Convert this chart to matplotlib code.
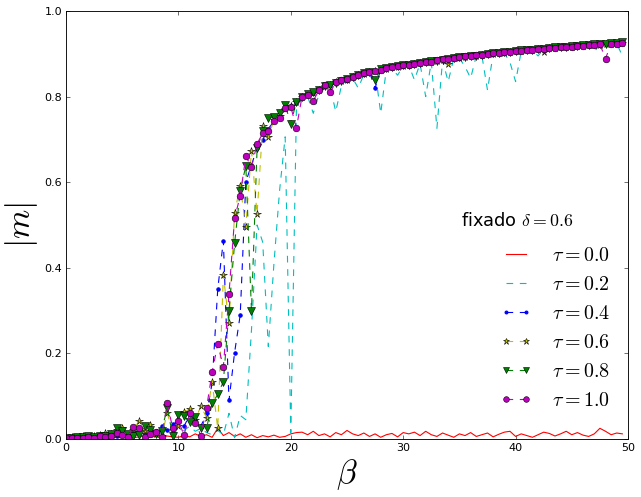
import matplotlib
matplotlib.use('Agg')
import matplotlib.pyplot as plt

plt.rcParams['font.family'] = 'DejaVu Sans'
plt.rcParams['mathtext.fontset'] = 'cm'
plt.rcParams['lines.dashed_pattern'] = [6, 6]
plt.rcParams['xtick.direction'] = 'in'
plt.rcParams['ytick.direction'] = 'in'
plt.rcParams['xtick.top'] = True
plt.rcParams['ytick.right'] = True

# beta grid (step 0.5)
BETA = [
    0.0, 0.5, 1.0, 1.5, 2.0, 2.5, 3.0, 3.5, 4.0, 4.5,
    5.0, 5.5, 6.0, 6.5, 7.0, 7.5, 8.0, 8.5, 9.0, 9.5,
    10.0, 10.5, 11.0, 11.5, 12.0, 12.5, 13.0, 13.5, 14.0, 14.5,
    15.0, 15.5, 16.0, 16.5, 17.0, 17.5, 18.0, 18.5, 19.0, 19.5,
    20.0, 20.5, 21.0, 21.5, 22.0, 22.5, 23.0, 23.5, 24.0, 24.5,
    25.0, 25.5, 26.0, 26.5, 27.0, 27.5, 28.0, 28.5, 29.0, 29.5,
    30.0, 30.5, 31.0, 31.5, 32.0, 32.5, 33.0, 33.5, 34.0, 34.5,
    35.0, 35.5, 36.0, 36.5, 37.0, 37.5, 38.0, 38.5, 39.0, 39.5,
    40.0, 40.5, 41.0, 41.5, 42.0, 42.5, 43.0, 43.5, 44.0, 44.5,
    45.0, 45.5, 46.0, 46.5, 47.0, 47.5, 48.0, 48.5, 49.0, 49.5,
]

M_TAU00 = [
    0.001, 0.002, 0.001, 0.003, 0.002, 0.004, 0.002, 0.003, 0.005, 0.003,
    0.004, 0.006, 0.003, 0.005, 0.008, 0.004, 0.006, 0.003, 0.007, 0.005,
    0.004, 0.008, 0.005, 0.012, 0.006, 0.010, 0.004, 0.025, 0.008, 0.015,
    0.006, 0.012, 0.004, 0.010, 0.003, 0.008, 0.005, 0.009, 0.004, 0.006,
    0.012, 0.015, 0.016, 0.010, 0.018, 0.008, 0.012, 0.005, 0.015, 0.010,
    0.020, 0.012, 0.008, 0.014, 0.006, 0.012, 0.004, 0.010, 0.013, 0.005,
    0.015, 0.012, 0.016, 0.008, 0.018, 0.010, 0.006, 0.014, 0.009, 0.004,
    0.012, 0.008, 0.015, 0.006, 0.010, 0.014, 0.005, 0.011, 0.016, 0.018,
    0.006, 0.012, 0.008, 0.004, 0.010, 0.016, 0.013, 0.007, 0.012, 0.018,
    0.010, 0.015, 0.009, 0.006, 0.012, 0.025, 0.018, 0.010, 0.014, 0.012,
]

M_TAU02 = [
    0.001, 0.002, 0.002, 0.003, 0.002, 0.004, 0.003, 0.005, 0.004, 0.006,
    0.005, 0.008, 0.006, 0.010, 0.008, 0.012, 0.010, 0.015, 0.012, 0.018,
    0.015, 0.020, 0.030, 0.018, 0.025, 0.015, 0.010, 0.020, 0.010, 0.060,
    0.003, 0.055, 0.045, 0.254, 0.500, 0.460, 0.216, 0.410, 0.580, 0.706,
    0.015, 0.770, 0.800, 0.800, 0.761, 0.805, 0.820, 0.822, 0.765, 0.825,
    0.838, 0.843, 0.820, 0.852, 0.856, 0.860, 0.761, 0.864, 0.866, 0.850,
    0.871, 0.873, 0.839, 0.877, 0.800, 0.881, 0.726, 0.885, 0.835, 0.889,
    0.890, 0.870, 0.843, 0.895, 0.896, 0.815, 0.899, 0.901, 0.902, 0.880,
    0.835, 0.906, 0.907, 0.908, 0.895, 0.911, 0.912, 0.913, 0.914, 0.915,
    0.916, 0.917, 0.918, 0.919, 0.905, 0.921, 0.922, 0.923, 0.924, 0.895,
]

M_TAU04 = [
    0.002, 0.003, 0.004, 0.003, 0.005, 0.006, 0.004, 0.008, 0.010, 0.007,
    0.012, 0.008, 0.015, 0.020, 0.010, 0.025, 0.018, 0.030, 0.020, 0.035,
    0.040, 0.030, 0.055, 0.045, 0.030, 0.060, 0.130, 0.350, 0.463, 0.090,
    0.202, 0.290, 0.601, 0.640, 0.680, 0.699, 0.725, 0.742, 0.755, 0.770,
    0.777, 0.786, 0.798, 0.803, 0.808, 0.815, 0.824, 0.827, 0.832, 0.836,
    0.838, 0.845, 0.849, 0.854, 0.857, 0.820, 0.863, 0.865, 0.868, 0.870,
    0.872, 0.874, 0.876, 0.878, 0.880, 0.882, 0.884, 0.886, 0.888, 0.890,
    0.891, 0.893, 0.895, 0.896, 0.898, 0.899, 0.900, 0.902, 0.903, 0.905,
    0.906, 0.907, 0.908, 0.909, 0.911, 0.912, 0.913, 0.914, 0.915, 0.916,
    0.917, 0.918, 0.919, 0.920, 0.921, 0.921, 0.922, 0.923, 0.924, 0.925,
]

M_TAU06 = [
    0.003, 0.004, 0.002, 0.006, 0.005, 0.008, 0.010, 0.015, 0.012, 0.022,
    0.025, 0.010, 0.020, 0.043, 0.018, 0.033, 0.012, 0.006, 0.060, 0.020,
    0.030, 0.062, 0.070, 0.045, 0.077, 0.050, 0.134, 0.025, 0.383, 0.270,
    0.529, 0.591, 0.496, 0.674, 0.526, 0.731, 0.706, 0.745, 0.755, 0.772,
    0.778, 0.787, 0.799, 0.803, 0.808, 0.815, 0.824, 0.828, 0.833, 0.836,
    0.839, 0.845, 0.850, 0.853, 0.858, 0.860, 0.863, 0.865, 0.868, 0.870,
    0.872, 0.874, 0.876, 0.878, 0.880, 0.882, 0.884, 0.886, 0.876, 0.890,
    0.891, 0.893, 0.895, 0.896, 0.898, 0.899, 0.900, 0.902, 0.903, 0.905,
    0.906, 0.907, 0.908, 0.909, 0.911, 0.905, 0.913, 0.914, 0.915, 0.916,
    0.917, 0.918, 0.919, 0.920, 0.921, 0.921, 0.922, 0.923, 0.924, 0.925,
]

M_TAU08 = [
    0.003, 0.002, 0.004, 0.005, 0.006, 0.004, 0.008, 0.006, 0.012, 0.025,
    0.018, 0.012, 0.006, 0.010, 0.030, 0.021, 0.012, 0.018, 0.072, 0.008,
    0.056, 0.054, 0.039, 0.052, 0.025, 0.025, 0.083, 0.104, 0.134, 0.300,
    0.457, 0.580, 0.638, 0.300, 0.679, 0.720, 0.749, 0.752, 0.762, 0.780,
    0.737, 0.788, 0.798, 0.806, 0.810, 0.816, 0.824, 0.828, 0.832, 0.837,
    0.840, 0.846, 0.850, 0.854, 0.857, 0.839, 0.864, 0.866, 0.869, 0.871,
    0.873, 0.874, 0.877, 0.879, 0.880, 0.883, 0.884, 0.886, 0.889, 0.890,
    0.892, 0.893, 0.895, 0.896, 0.898, 0.899, 0.901, 0.903, 0.904, 0.905,
    0.906, 0.908, 0.909, 0.910, 0.911, 0.912, 0.913, 0.915, 0.916, 0.917,
    0.918, 0.919, 0.920, 0.921, 0.922, 0.922, 0.924, 0.925, 0.926, 0.927,
]

M_TAU10 = [
    0.002, 0.002, 0.003, 0.003, 0.004, 0.003, 0.007, 0.004, 0.006, 0.013,
    0.010, 0.005, 0.029, 0.025, 0.004, 0.012, 0.017, 0.004, 0.083, 0.025,
    0.043, 0.009, 0.060, 0.038, 0.008, 0.072, 0.156, 0.222, 0.168, 0.339,
    0.516, 0.568, 0.661, 0.635, 0.690, 0.714, 0.720, 0.744, 0.749, 0.773,
    0.776, 0.727, 0.800, 0.804, 0.790, 0.815, 0.826, 0.810, 0.833, 0.838,
    0.840, 0.846, 0.851, 0.855, 0.858, 0.860, 0.863, 0.866, 0.868, 0.871,
    0.873, 0.875, 0.876, 0.879, 0.881, 0.882, 0.885, 0.887, 0.888, 0.891,
    0.892, 0.894, 0.895, 0.897, 0.898, 0.900, 0.901, 0.902, 0.904, 0.905,
    0.906, 0.907, 0.909, 0.910, 0.911, 0.912, 0.913, 0.914, 0.915, 0.916,
    0.917, 0.918, 0.919, 0.920, 0.921, 0.922, 0.889, 0.923, 0.924, 0.925,
]

LABELS = [r'$\tau=0.0$', r'$\tau=0.2$', r'$\tau=0.4$',
          r'$\tau=0.6$', r'$\tau=0.8$', r'$\tau=1.0$']

fig = plt.figure(figsize=(641 / 80, 497 / 80), dpi=80)
ax = fig.add_axes([66 / 641, 58 / 497, 562 / 641, 428 / 497])

c_cyan = (0, 0.75, 0.75)
c_yel = (0.75, 0.75, 0)
c_grn = (0, 0.5, 0)

ax.plot(BETA, M_TAU00, '-', color='r', lw=1, label=LABELS[0])
ax.plot(BETA, M_TAU02, '--', color=c_cyan, lw=1, label=LABELS[1])
ax.plot(BETA, M_TAU04, '--', color='b', lw=1, marker='.', ms=6,
        mec='b', label=LABELS[2])
ax.plot(BETA, M_TAU06, '--', color=c_yel, lw=1, marker='*', ms=7,
        mfc=c_yel, mec='k', mew=0.5, label=LABELS[3])
ax.plot(BETA, M_TAU08, '--', color=c_grn, lw=1, marker='v', ms=6.5,
        mfc=c_grn, mec='k', mew=0.5, label=LABELS[4])
ax.plot(BETA, M_TAU10, '--', color='m', lw=1, marker='o', ms=6,
        mfc='m', mec='k', mew=0.5, label=LABELS[5])

ax.set_xlim(0, 50)
ax.set_ylim(0, 1)
ax.set_xticks([0, 10, 20, 30, 40, 50])
ax.set_yticks([0.0, 0.2, 0.4, 0.6, 0.8, 1.0])
ax.set_yticklabels(['0.0', '0.2', '0.4', '0.6', '0.8', '1.0'])
ax.tick_params(labelsize=10, length=4, width=0.5)

ax.set_xlabel(r'$\beta$', fontsize=30)
ax.set_ylabel(r'$|m|$', fontsize=30)

ax.text(0.703, 0.51, r'fixado $\delta=0.6$', transform=ax.transAxes,
        fontsize=16, ha='left', va='center')
ax.legend(loc='upper left', bbox_to_anchor=(0.74, 0.492), frameon=False,
          fontsize=18, numpoints=2, handlelength=1.6, handletextpad=1.0,
          labelspacing=0.5, markerscale=0.85)

fig.savefig('out.png', dpi=80, facecolor='white')
